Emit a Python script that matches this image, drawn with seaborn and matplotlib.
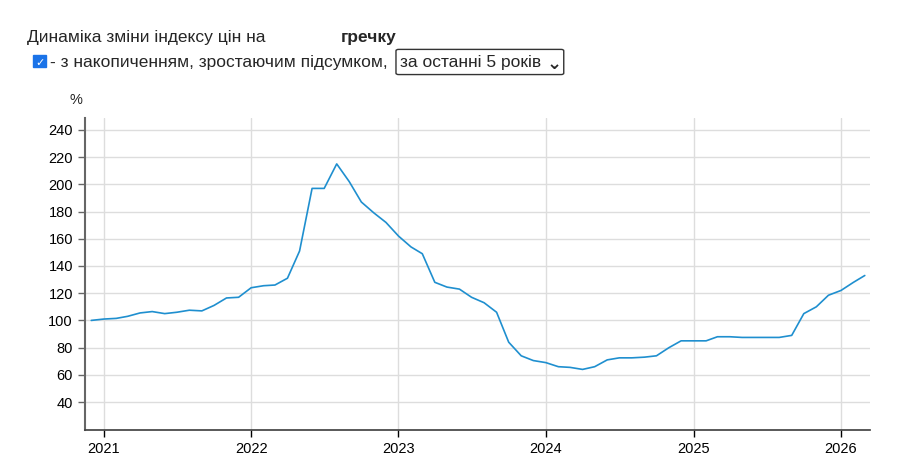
import numpy as np
import pandas as pd
import matplotlib
matplotlib.use("Agg")
import matplotlib.pyplot as plt
import matplotlib.dates as mdates
from matplotlib.patches import FancyBboxPatch, Rectangle
import seaborn as sns

# monthly index values, Dec 2020 .. Mar 2026
months = pd.date_range("2020-12-01", "2026-03-01", freq="MS")
values = [100,
          101, 101.5, 103, 105.5, 106.5, 105, 106, 107.5, 107, 111, 116.5, 117,
          124, 125.5, 126, 131, 151, 197, 197, 215, 202, 187, 179, 172,
          162, 154, 149, 128, 124.5, 123, 117, 113, 106, 84, 74, 70.5,
          69, 66, 65.5, 64, 66, 71, 72.5, 72.5, 73, 74, 80, 85,
          85, 85, 88, 88, 87.5, 87.5, 87.5, 87.5, 89, 105, 110, 118.5,
          122, 128, 133]
yticks = list(range(40, 241, 20))
years = [2021, 2022, 2023, 2024, 2025, 2026]

df = pd.DataFrame({"date": months, "value": values})

sns.set_theme(style="white")
plt.rcParams['font.family'] = ['Liberation Sans', 'DejaVu Sans']

fig = plt.figure(figsize=(9.02, 4.66), dpi=100)
ax = fig.add_axes([0.094, 0.077, 0.871, 0.67])

sns.lineplot(data=df, x="date", y="value", ax=ax, color="#1f8fcf", linewidth=1.2)

ax.set_ylim(19.4, 248.8)
ax.set_xlim(pd.Timestamp("2020-11-15"), pd.Timestamp("2026-03-15"))
ax.set_yticks(yticks)
ax.set_xticks([pd.Timestamp(f"{y}-01-01") for y in years])
ax.xaxis.set_major_formatter(mdates.DateFormatter("%Y"))
ax.grid(True, color="#dddddd", linewidth=1)
ax.set_axisbelow(True)
ax.set_xlabel("")
ax.set_ylabel("")
for s in ["top", "right"]:
    ax.spines[s].set_visible(False)
ax.spines["left"].set_color("#666666")
ax.spines["left"].set_linewidth(1.5)
ax.spines["bottom"].set_color("#444444")
ax.tick_params(axis="both", labelsize=10.5, colors="#000000", length=5, width=1,
               direction="out", left=True, bottom=True)
ax.tick_params(axis="y", colors="#666666", labelcolor="#000000")
ax.text(-0.003, 1.045, "%", transform=ax.transAxes, fontsize=10.5, ha="right")

# header
fig.text(0.030, 0.91, "Динаміка зміни індексу цін на", fontsize=12.5)
fig.text(0.378, 0.91, "гречку", fontsize=12.5, fontweight="bold")
fig.patches.append(Rectangle((0.037, 0.856), 0.0135, 0.027, transform=fig.transFigure,
                             facecolor="#1a73e8", edgecolor="#1a73e8"))
fig.text(0.0393, 0.859, "✓", fontsize=8, color="white", family=['DejaVu Sans'])
fig.text(0.055, 0.856, "- з накопиченням, зростаючим підсумком,", fontsize=12.5)
fig.patches.append(FancyBboxPatch((0.439, 0.84), 0.186, 0.054, transform=fig.transFigure,
                                  boxstyle="round,pad=0,rounding_size=0.003",
                                  facecolor="white", edgecolor="#333333", linewidth=1))
fig.text(0.444, 0.856, "за останні 5 років", fontsize=12.5)
fig.text(0.606, 0.853, "⌄", fontsize=13, fontweight="bold", family=['DejaVu Sans'])

fig.savefig("out.png", dpi=100)
